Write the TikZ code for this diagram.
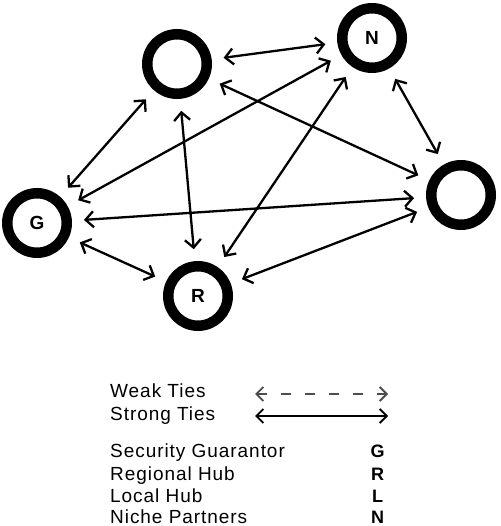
\documentclass[tikz,border=0pt]{standalone}
\usepackage{fontspec}
\setmainfont{Liberation Sans}
\newfontfamily\legendfont[LetterSpace=5]{Liberation Sans}
\usetikzlibrary{arrows.meta}
\begin{document}
\begin{tikzpicture}[x=1pt,y=-1pt,
  actor/.style={circle, draw=black, line width=10.5pt, minimum size=59.5pt, inner sep=0pt, fill=white,
    font=\fontsize{19}{19}\selectfont\bfseries},
  tie/.style={{Straight Barb[length=8pt,width=16pt]}-{Straight Barb[length=8pt,width=16pt]},
    line width=2.3pt, line join=round, shorten >=12pt, shorten <=12pt},
  legtext/.style={anchor=base west, inner sep=0pt, font=\legendfont\fontsize{19}{19}\selectfont},
  legkey/.style={anchor=base, inner sep=0pt, font=\fontsize{18}{18}\selectfont\bfseries},
  legarrow/.style={{Straight Barb[length=7pt,width=14pt]}-{Straight Barb[length=7pt,width=14pt]},
    line width=1.8pt, line join=round},
  weak/.style={legarrow, draw=black!70, dash pattern=on 10pt off 14pt, dash phase=0pt}
]
\useasboundingbox (0,0) rectangle (500,526);
% actors
\node[actor] (tl) at (177,64) {};
\node[actor] (n) at (372,38) {N};
\node[actor] (rt) at (461,195) {};
\node[actor] (g) at (37,223) {G};
\node[actor] (r) at (198,296) {R};
% ties
\draw[tie] (tl) -- (n);
\draw[tie] (tl) -- (g);
\draw[tie] (tl) -- (r);
\draw[tie] (tl) -- (rt);
\draw[tie] (n) -- (g);
\draw[tie] (n) -- (r);
\draw[tie] (n) -- (rt);
\draw[tie] (g) -- (rt);
\draw[tie] (g) -- (r);
\draw[tie] (r) -- (rt);
% legend
\node[legtext] (lw) at (110,397) {Weak Ties};
\node[legtext] (ls) at (110,420) {Strong Ties};
\node[legtext] (lg) at (110,457) {Security Guarantor};
\node[legtext] (lr) at (110,480) {Regional Hub};
\node[legtext] (ll) at (110,502) {Local Hub};
\node[legtext] (ln) at (110,523) {Niche Partners};
\node[legkey] (kg) at (377.5,457) {G};
\node[legkey] (kr) at (377.5,480) {R};
\node[legkey] (kl) at (377.5,502) {L};
\node[legkey] (kn) at (377.5,523) {N};
\coordinate (wa) at (255,394);
\coordinate (wb) at (388,394);
\coordinate (sa) at (255,416);
\coordinate (sb) at (388,416);
\draw[weak] (wa) -- (wb);
\draw[legarrow] (sa) -- (sb);
\end{tikzpicture}
\end{document}
